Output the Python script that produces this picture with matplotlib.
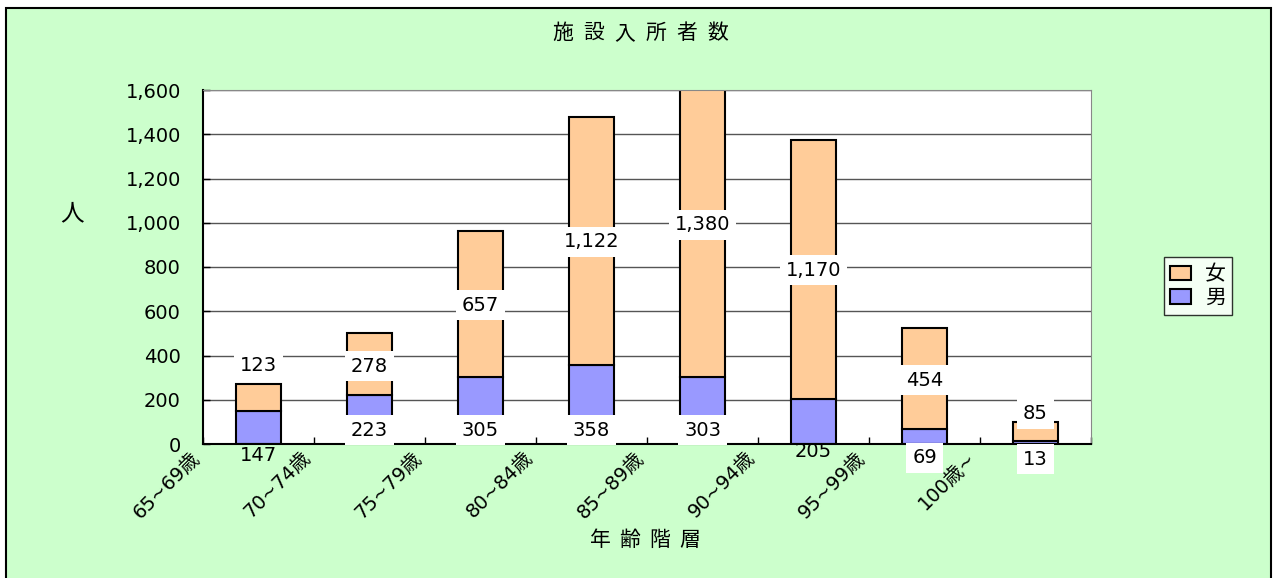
import matplotlib as mpl
mpl.use('Agg')
import matplotlib.pyplot as plt
from matplotlib.patches import Rectangle
from matplotlib.ticker import FuncFormatter

plt.rcParams['font.family'] = ['DejaVu Sans', 'Noto Sans CJK JP']

ages = ['65~69歳', '70~74歳', '75~79歳', '80~84歳', '85~89歳', '90~94歳', '95~99歳', '100歳~']
male = [147, 223, 305, 358, 303, 205, 69, 13]
female = [123, 278, 657, 1122, 1380, 1170, 454, 85]
# where the data labels sit (in data units)
male_lab_y = [-50, 63, 63, 63, 63, -36, -63, -68]
female_lab_y = [357, 352, 628, 913, 990, 786, 289, 136]
male_lab_box = [False, True, True, True, True, False, True, True]

W, H = 1276, 578
fig = plt.figure(figsize=(W/100, H/100), dpi=100)
fig.patch.set_facecolor('white')

def spaced(xc, yc, s, step, size):
    # CJK text with wide letter spacing, centred on (xc, yc) in pixels
    x0 = xc - step*(len(s)-1)/2
    for k, ch in enumerate(s):
        fig.text((x0 + k*step)/W, 1-yc/H, ch, ha='center', va='center', fontsize=size)

# green chart area with border
fig.patches.append(Rectangle((6/W, -0.02), 1265/W, (H-8)/H + 0.02, transform=fig.transFigure,
                             facecolor='#CCFFCC', edgecolor='black', lw=1.5, zorder=-10))

ax = fig.add_axes([203/W, 1-444/H, (1091-203)/W, (444-90)/H])
ax.set_facecolor('white')

x = range(len(ages))
bw = 0.4
ax.bar(x, male, bw, color='#9999FF', edgecolor='black', lw=1.5, label='男', zorder=2)
ax.bar(x, female, bw, bottom=male, color='#FFCC99', edgecolor='black', lw=1.5, label='女', zorder=2)

ax.set_ylim(0, 1600)
ax.set_xlim(-0.5, len(ages)-0.5)
ax.set_yticks(range(0, 1601, 200))
ax.yaxis.set_major_formatter(FuncFormatter(lambda v, p: '{:,}'.format(int(v))))
ax.grid(axis='y', color='#555555', lw=1)
ax.set_axisbelow(True)

bounds = [i - 0.5 for i in range(len(ages)+1)]
ax.set_xticks(bounds)
ax.set_xticklabels(ages + [''], rotation=45, ha='right', fontsize=14)
ax.tick_params(axis='both', direction='in', length=5, width=1, labelsize=14)
ax.tick_params(axis='y', pad=16)
ax.tick_params(axis='x', pad=3)

for s in ['top', 'right']:
    ax.spines[s].set_color('#888888')
for s in ['left', 'bottom']:
    ax.spines[s].set_color('black')
    ax.spines[s].set_linewidth(1.5)

box = dict(boxstyle='square,pad=0.3', facecolor='white', edgecolor='none')
for i in x:
    ax.text(i, male_lab_y[i], '{:,}'.format(male[i]), ha='center', va='center', fontsize=14,
            bbox=box if male_lab_box[i] else None, zorder=5, clip_on=False)
    ax.text(i, female_lab_y[i], '{:,}'.format(female[i]), ha='center', va='center', fontsize=14,
            bbox=box, zorder=5, clip_on=False)

spaced(640, 33, '施設入所者数', 31, 15)
spaced(72, 213, '人', 30, 17)
spaced(645, 540, '年齢階層', 30, 15)

h, l = ax.get_legend_handles_labels()
leg = fig.legend(h[::-1], l[::-1], loc='center', bbox_to_anchor=(1198/W, 1-286/H),
                 prop={'family': ['Noto Sans CJK JP'], 'size': 15},
                 frameon=True, fancybox=False, edgecolor='black',
                 handlelength=1.0, handleheight=0.7, handletextpad=0.7,
                 borderpad=0.3, labelspacing=0.05, borderaxespad=0)
leg.get_frame().set_linewidth(1)

fig.savefig('out.png', dpi=100, facecolor='white')
